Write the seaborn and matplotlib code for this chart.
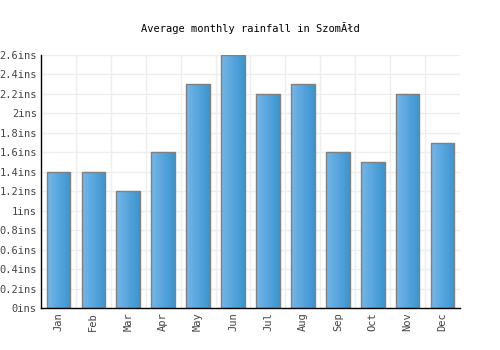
import matplotlib
matplotlib.use("Agg")
import matplotlib.pyplot as plt
import seaborn as sns
import numpy as np
import pandas as pd
from matplotlib.colors import LinearSegmentedColormap

months = ["Jan", "Feb", "Mar", "Apr", "May", "Jun", "Jul", "Aug", "Sep", "Oct", "Nov", "Dec"]
rainfall = [1.4, 1.4, 1.2, 1.6, 2.3, 2.6, 2.2, 2.3, 1.6, 1.5, 2.2, 1.7]
yticks = [0, 0.2, 0.4, 0.6, 0.8, 1.0, 1.2, 1.4, 1.6, 1.8, 2.0, 2.2, 2.4, 2.6]
ytick_labels = ["0ins", "0.2ins", "0.4ins", "0.6ins", "0.8ins", "1ins", "1.2ins", "1.4ins",
                "1.6ins", "1.8ins", "2ins", "2.2ins", "2.4ins", "2.6ins"]
title = "Average monthly rainfall in SzomĂłd"

sns.set_style("white")
plt.rcParams['font.family'] = ['DejaVu Sans Mono']

df = pd.DataFrame({"month": months, "rain": rainfall})

fig = plt.figure(figsize=(5, 3.5), dpi=100)
ax = fig.add_axes([0.082, 0.12, 0.838, 0.723])

sns.barplot(data=df, x="month", y="rain", ax=ax, width=0.68, color="#55a5dc",
            edgecolor="#808080", linewidth=1.0, zorder=3)

cmap = LinearSegmentedColormap.from_list("g", ["#74b6ea", "#3b95cf"])
grad = np.linspace(0, 1, 64).reshape(1, -1)
for p in ax.patches:
    x0, y0 = p.get_x(), p.get_y()
    w, h = p.get_width(), p.get_height()
    im = ax.imshow(grad, extent=[x0, x0 + w, y0, y0 + h], aspect="auto",
                   cmap=cmap, zorder=3.5, interpolation="bicubic")
    im.set_clip_path(p)
    p.set_facecolor("none")
    p.set_zorder(4)

ax.set_xlim(-0.5, 11.5)
ax.set_ylim(0, 2.6)
ax.set_yticks(yticks)
ax.set_yticklabels(ytick_labels)
ax.set_xlabel("")
ax.set_ylabel("")
ax.set_xticks(range(12))
ax.set_xticklabels(months, rotation=90)
ax.tick_params(axis="both", labelsize=7.5, colors="#444444", length=0, pad=3)

for v in yticks[1:]:
    ax.axhline(v, color="#eeeeee", linewidth=1, zorder=1)
for xb in np.arange(0.5, 11.5, 1):
    ax.axvline(xb, color="#eeeeee", linewidth=1, zorder=1)

for s in ["top", "right"]:
    ax.spines[s].set_visible(False)
for s in ["left", "bottom"]:
    ax.spines[s].set_color("black")
    ax.spines[s].set_linewidth(1.0)
    ax.spines[s].set_zorder(5)

fig.text(0.5, 0.92, title, ha="center", va="center", fontsize=7.5, color="#000000")

fig.savefig("out.png", dpi=100)
